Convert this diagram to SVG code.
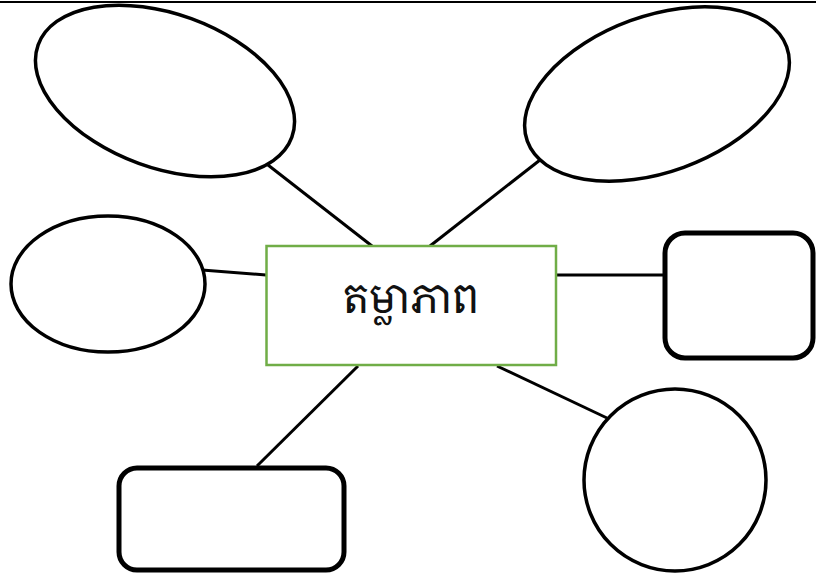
<svg xmlns="http://www.w3.org/2000/svg" width="816" height="576" viewBox="0 0 816 576">
<style>
.sh{fill:#fff;stroke:#000;stroke-width:3.5}
.bx{fill:#fff;stroke:#000;stroke-width:5}
.cn{stroke:#000;stroke-width:3;fill:none}
.lb{font-family:"Noto Serif Khmer","Noto Sans Khmer","Khmer OS","Noto Sans","DejaVu Sans",sans-serif;font-size:41px;fill:#111;text-anchor:middle}
</style>
<rect width="816" height="576" fill="#fff"/>
<line x1="0" y1="2" x2="816" y2="2" stroke="#000" stroke-width="2"/>
<g id="connectors">
<line class="cn" x1="268" y1="165" x2="372" y2="246"/>
<line class="cn" x1="540" y1="160" x2="430" y2="246"/>
<line class="cn" x1="202" y1="270" x2="266" y2="275"/>
<line class="cn" x1="556" y1="275" x2="664" y2="275"/>
<line class="cn" x1="358" y1="366" x2="257" y2="466"/>
<line class="cn" x1="497" y1="366" x2="607" y2="418"/>
</g>
<g id="ellipse-top-left"><ellipse class="sh" cx="165" cy="91" rx="135" ry="77" transform="rotate(20 165 91)"/></g>
<g id="ellipse-top-right"><ellipse class="sh" cx="657" cy="94" rx="138" ry="78" transform="rotate(-20 657 94)"/></g>
<g id="ellipse-left"><ellipse class="sh" cx="108" cy="284" rx="97" ry="68"/></g>
<g id="circle-bottom-right"><circle class="sh" cx="675" cy="480" r="91"/></g>
<g id="rect-right"><rect class="bx" x="665" y="233" width="148" height="125" rx="20"/></g>
<g id="rect-bottom-left"><rect class="bx" x="119" y="468" width="225" height="102" rx="18"/></g>
<g id="center">
<rect x="266.5" y="246" width="289.5" height="119" fill="#fff" stroke="#70AD47" stroke-width="2.5"/>
<text class="lb" x="411" y="313">តម្លាភាព</text>
</g>
</svg>
